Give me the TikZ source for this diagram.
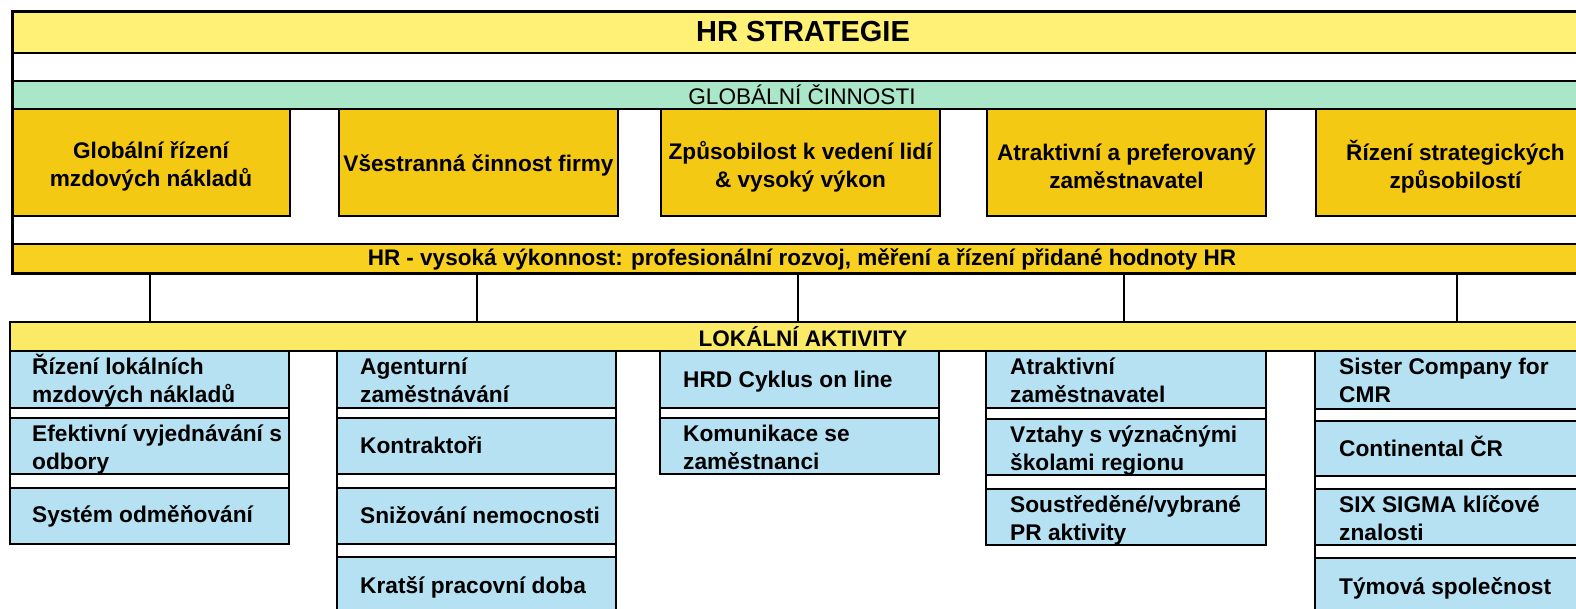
\documentclass[tikz,border=0pt]{standalone}
\usepackage{fontspec}
\setmainfont{Liberation Sans}
\definecolor{topyel}{HTML}{FFF176}
\definecolor{mint}{HTML}{AAE6C8}
\definecolor{gold}{HTML}{F4C914}
\definecolor{hrbarc}{HTML}{F7D020}
\definecolor{lokyel}{HTML}{FBEA66}
\definecolor{sky}{HTML}{B6E1F2}
\newcommand\twoline[2]{\begin{tabular}[t]{@{}l@{}}#1\\#2\end{tabular}}
\begin{document}
\begin{tikzpicture}[x=1pt,y=-1pt,
  bx/.style={draw=black, line width=2pt, inner sep=0pt, outer sep=0pt, anchor=north west},
  barbox/.style={bx, minimum width=1700pt},
  gbox/.style={bx, fill=gold, minimum height=107pt},
  gtxt/.style={inner sep=0pt, align=center, font=\fontsize{22.6}{28}\selectfont\bfseries},
  bbox/.style={bx, fill=sky},
  btxt/.style={font=\fontsize{22.7}{28}\selectfont\bfseries, anchor=base west, inner sep=0pt},
  ttxt/.style={inner sep=0pt},
  conn/.style={draw=black, line width=1.5pt}]
\useasboundingbox (0,0) rectangle (1576,609);
\clip (0,0) rectangle (1576,609);
\fill[white] (0,0) rectangle (1576,609);

% global part
\node[barbox, fill=topyel, minimum height=41pt] (top) at (12,12) {};
\node[ttxt, font=\fontsize{29}{32}\selectfont\bfseries] (title) at (803,32) {HR STRATEGIE};
\node[barbox, fill=mint, minimum height=28pt] (glob) at (12,81) {};
\node[ttxt, font=\fontsize{22.6}{26}\selectfont] (globt) at (802,95) {GLOBÁLNÍ ČINNOSTI};

\node[gbox, minimum width=278pt] (g1) at (12,109) {};
\node[gbox, minimum width=279pt] (g2) at (339,109) {};
\node[gbox, minimum width=279pt] (g3) at (661,109) {};
\node[gbox, minimum width=279pt] (g4) at (987,109) {};
\node[gbox, minimum width=279pt] (g5) at (1316,109) {};
\node[gtxt] (g1t) at ([yshift=-4pt]g1.center) {Globální řízení\\mzdových nákladů};
\node[gtxt] (g2t) at ([yshift=-3pt]g2.center) {Všestranná činnost firmy};
\node[gtxt] (g3t) at ([yshift=-4pt]g3.center) {Způsobilost k vedení lidí\\\& vysoký výkon};
\node[gtxt] (g4t) at ([yshift=-4pt]g4.center) {Atraktivní a preferovaný\\zaměstnavatel};
\node[gtxt] (g5t) at ([yshift=-4pt]g5.center) {Řízení strategických\\způsobilostí};

\node[barbox, fill=hrbarc, minimum height=30pt] (hr) at (12,244) {};
\node[ttxt, font=\fontsize{22.5}{26}\selectfont\bfseries] (hrt) at (802,259)
  {HR - vysoká výkonnost: profesionální rozvoj, měření a řízení přidané hodnoty HR};

% outer frame
\draw[line width=3pt] (12,12) rectangle (1700,274);

% connectors
\coordinate (k1) at (150,0);
\coordinate (k2) at (477,0);
\coordinate (k3) at (798,0);
\coordinate (k4) at (1124,0);
\coordinate (k5) at (1457,0);

% local part
\node[barbox, fill=lokyel, minimum height=29pt] (lok) at (10,322) {};
\node[ttxt, font=\fontsize{22.5}{26}\selectfont\bfseries] (lokt) at (803,337) {LOKÁLNÍ AKTIVITY};

\foreach \k in {k1,k2,k3,k4,k5}
  \draw[conn] (hr.south -| \k) -- (lok.north -| \k);

% column 1
\node[bbox, minimum width=279pt, minimum height=57pt] (a1) at (10,351) {};
\node[bbox, minimum width=279pt, minimum height=56pt] (a2) at (10,418) {};
\node[bbox, minimum width=279pt, minimum height=56pt] (a3) at (10,488) {};
\draw[line width=2pt] (a1.north west) -- (a3.south west) (a1.north east) -- (a3.south east);
\node[btxt] at ([xshift=22pt,yshift=-23pt]a1.north west) {\twoline{Řízení lokálních}{mzdových nákladů}};
\node[btxt] at ([xshift=22pt,yshift=-23pt]a2.north west) {\twoline{Efektivní vyjednávání s}{odbory}};
\node[btxt] at ([xshift=22pt,yshift=-34pt]a3.north west) {Systém odměňování};

% column 2
\node[bbox, minimum width=279pt, minimum height=57pt] (b1) at (337,351) {};
\node[bbox, minimum width=279pt, minimum height=56pt] (b2) at (337,418) {};
\node[bbox, minimum width=279pt, minimum height=56pt] (b3) at (337,488) {};
\node[bbox, minimum width=279pt, minimum height=70pt] (b4) at (337,557) {};
\draw[line width=2pt] (b1.north west) -- (b4.south west) (b1.north east) -- (b4.south east);
\node[btxt] at ([xshift=23pt,yshift=-23pt]b1.north west) {\twoline{Agenturní}{zaměstnávání}};
\node[btxt] at ([xshift=23pt,yshift=-35pt]b2.north west) {Kontraktoři};
\node[btxt] at ([xshift=23pt,yshift=-35pt]b3.north west) {Snižování nemocnosti};
\node[btxt] at ([xshift=23pt,yshift=-36pt]b4.north west) {Kratší pracovní doba};

% column 3
\node[bbox, minimum width=279pt, minimum height=57pt] (c1) at (660,351) {};
\node[bbox, minimum width=279pt, minimum height=56pt] (c2) at (660,418) {};
\draw[line width=2pt] (c1.north west) -- (c2.south west) (c1.north east) -- (c2.south east);
\node[btxt] at ([xshift=23pt,yshift=-36pt]c1.north west) {HRD Cyklus on line};
\node[btxt] at ([xshift=23pt,yshift=-23pt]c2.north west) {\twoline{Komunikace se}{zaměstnanci}};

% column 4
\node[bbox, minimum width=280pt, minimum height=57pt] (d1) at (986,351) {};
\node[bbox, minimum width=280pt, minimum height=56pt] (d2) at (986,419) {};
\node[bbox, minimum width=280pt, minimum height=56pt] (d3) at (986,489) {};
\draw[line width=2pt] (d1.north west) -- (d3.south west) (d1.north east) -- (d3.south east);
\node[btxt] at ([xshift=24pt,yshift=-23pt]d1.north west) {\twoline{Atraktivní}{zaměstnavatel}};
\node[btxt] at ([xshift=24pt,yshift=-23pt]d2.north west) {\twoline{Vztahy s význačnými}{školami regionu}};
\node[btxt] at ([xshift=24pt,yshift=-23pt]d3.north west) {\twoline{Soustředěné/vybrané}{PR aktivity}};

% column 5
\node[bbox, minimum width=279pt, minimum height=58pt] (e1) at (1315,351) {};
\node[bbox, minimum width=279pt, minimum height=55pt] (e2) at (1315,421) {};
\node[bbox, minimum width=279pt, minimum height=56pt] (e3) at (1315,489) {};
\node[bbox, minimum width=279pt, minimum height=70pt] (e4) at (1315,558) {};
\draw[line width=2pt] (e1.north west) -- (e4.south west) (e1.north east) -- (e4.south east);
\node[btxt] at ([xshift=24pt,yshift=-23pt]e1.north west) {\twoline{Sister Company for}{CMR}};
\node[btxt] at ([xshift=24pt,yshift=-35pt]e2.north west) {Continental ČR};
\node[btxt] at ([xshift=24pt,yshift=-23pt]e3.north west) {\twoline{SIX SIGMA klíčové}{znalosti}};
\node[btxt] at ([xshift=24pt,yshift=-36pt]e4.north west) {Týmová společnost};
\end{tikzpicture}
\end{document}
